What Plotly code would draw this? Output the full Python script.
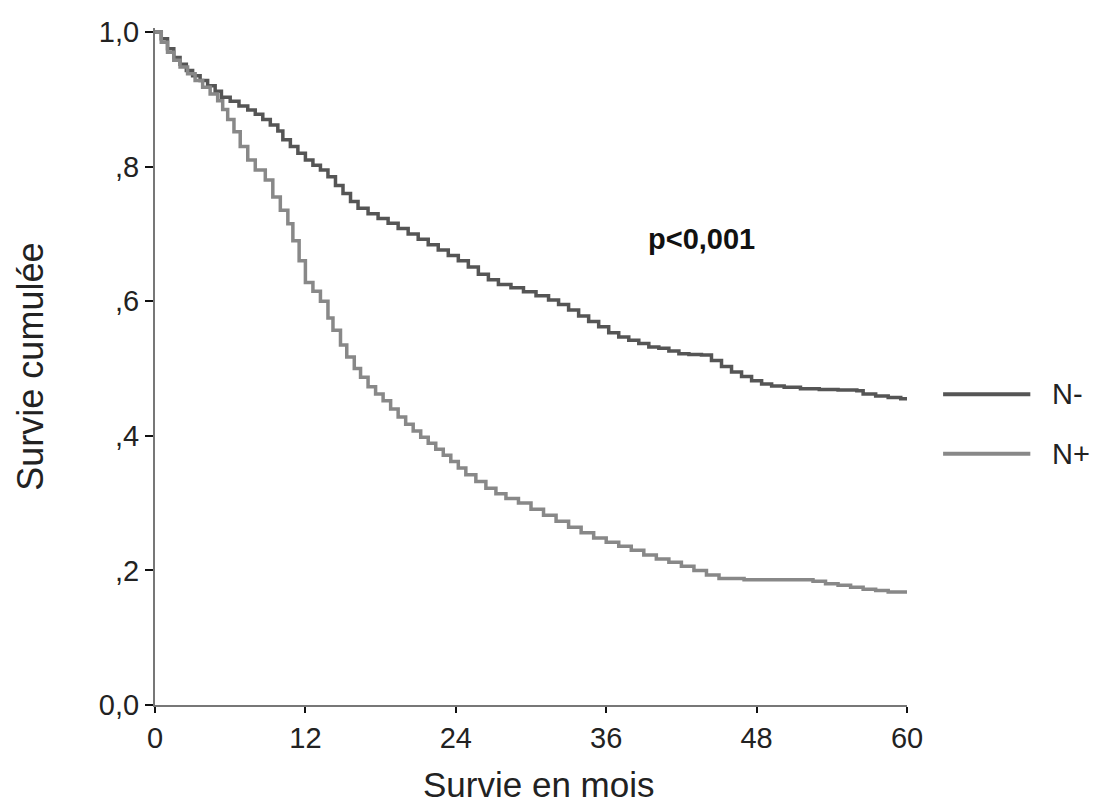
import plotly.graph_objects as go

# N- (dark curve)
t_neg = [0, 0.5, 1.0, 1.5, 2.0, 2.5, 3.0, 3.6, 4.2, 4.8, 5.3, 6.0, 6.7, 7.4, 8.0, 8.6, 9.2, 9.8,
         10.2, 10.8, 11.4, 12.0, 12.6, 13.2, 13.8, 14.4, 15.0, 15.6, 16.2, 17.0, 17.8, 18.6, 19.4,
         20.2, 21.0, 21.8, 22.6, 23.4, 24.2, 25.0, 25.8, 26.6, 27.4, 28.4, 29.4, 30.4, 31.4, 32.2,
         33.0, 33.8, 34.6, 35.4, 36.2, 37.0, 37.8, 38.6, 39.4, 40.2, 41.0, 41.8, 42.6, 43.6, 44.4,
         45.2, 46.0, 46.8, 47.6, 48.4, 49.2, 50.2, 51.5, 53.0, 54.5, 56.0, 56.5, 57.5, 58.5, 59.5, 60]
s_neg = [1.0, 0.99, 0.975, 0.962, 0.952, 0.943, 0.935, 0.928, 0.92, 0.912, 0.903, 0.897, 0.89, 0.884,
         0.878, 0.87, 0.862, 0.853, 0.84, 0.83, 0.82, 0.81, 0.802, 0.795, 0.785, 0.772, 0.76, 0.748,
         0.738, 0.73, 0.723, 0.716, 0.708, 0.7, 0.692, 0.684, 0.676, 0.668, 0.66, 0.651, 0.64, 0.632,
         0.625, 0.62, 0.614, 0.608, 0.602, 0.595, 0.587, 0.578, 0.57, 0.562, 0.553, 0.547, 0.542,
         0.537, 0.532, 0.53, 0.526, 0.522, 0.521, 0.52, 0.512, 0.503, 0.495, 0.488, 0.482, 0.477,
         0.474, 0.472, 0.470, 0.469, 0.468, 0.467, 0.462, 0.459, 0.457, 0.455, 0.455]

# N+ (light curve)
t_pos = [0, 0.5, 1.0, 1.5, 2.0, 2.6, 3.2, 3.8, 4.4, 5.0, 5.4, 5.8, 6.3, 6.8, 7.4, 8.0, 8.8, 9.4,
         10.0, 10.6, 11.0, 11.5, 12.0, 12.6, 13.2, 13.8, 14.2, 14.8, 15.3, 15.9, 16.4, 17.0, 17.6,
         18.2, 18.8, 19.4, 20.0, 20.6, 21.2, 21.8, 22.4, 23.0, 23.6, 24.2, 24.8, 25.6, 26.4, 27.2,
         28.0, 29.0, 30.0, 31.0, 32.0, 33.0, 34.0, 35.0, 36.0, 37.0, 38.0, 39.0, 40.0, 41.0, 42.0,
         43.0, 44.0, 45.0, 47.0, 49.0, 51.7, 52.5, 53.5, 54.5, 55.5, 56.5, 57.5, 58.5, 60]
s_pos = [1.0, 0.985, 0.97, 0.958, 0.948, 0.938, 0.928, 0.918, 0.908, 0.898, 0.885, 0.87, 0.852, 0.83,
         0.81, 0.795, 0.78, 0.755, 0.735, 0.715, 0.69, 0.66, 0.628, 0.615, 0.6, 0.575, 0.557, 0.535,
         0.517, 0.5, 0.487, 0.473, 0.462, 0.452, 0.44, 0.428, 0.417, 0.407, 0.398, 0.389, 0.38,
         0.371, 0.362, 0.352, 0.342, 0.332, 0.322, 0.314, 0.307, 0.3, 0.291, 0.282, 0.273, 0.264,
         0.256, 0.248, 0.242, 0.236, 0.23, 0.223, 0.217, 0.212, 0.206, 0.2, 0.193, 0.188, 0.186,
         0.186, 0.186, 0.184, 0.18, 0.178, 0.175, 0.172, 0.17, 0.168, 0.166]

x_ticks = [0, 12, 24, 36, 48, 60]
x_ticklabels = ["0", "12", "24", "36", "48", "60"]
y_ticks = [0.0, 0.2, 0.4, 0.6, 0.8, 1.0]
y_ticklabels = ["0,0", ",2", ",4", ",6", ",8", "1,0"]

series_names = ["N-", "N+"]
series_colors = ["#555555", "#888888"]

FONT = "Liberation Sans, Arial, sans-serif"

fig = go.Figure()
fig.add_trace(go.Scatter(x=t_neg, y=s_neg, mode="lines", line=dict(shape="hv", color=series_colors[0], width=3.5),
                         name=series_names[0], showlegend=False))
fig.add_trace(go.Scatter(x=t_pos, y=s_pos, mode="lines", line=dict(shape="hv", color=series_colors[1], width=3.5),
                         name=series_names[1], showlegend=False))

fig.update_layout(
    width=1094, height=809,
    margin=dict(l=155, r=187, t=28, b=104),
    paper_bgcolor="white", plot_bgcolor="white",
    font=dict(family=FONT, color="#222222"),
    xaxis=dict(range=[0, 60], tickvals=x_ticks, ticktext=x_ticklabels, showgrid=False, zeroline=False,
               showline=True, linecolor="#777777", linewidth=2, ticks="outside", ticklen=6, tickwidth=2,
               tickcolor="#111111", tickfont=dict(size=29, color="#222222")),
    yaxis=dict(range=[0, 1.006], tickvals=y_ticks, ticktext=y_ticklabels, showgrid=False, zeroline=False,
               showline=True, linecolor="#777777", linewidth=2, ticks="outside", ticklen=8, tickwidth=2,
               tickcolor="#111111", tickfont=dict(size=29, color="#222222")),
)

# axis titles
fig.add_annotation(text="Survie en mois", xref="paper", yref="paper", x=0.51, y=-0.086,
                   xanchor="center", yanchor="top", showarrow=False, font=dict(size=35, color="#222222"))
fig.add_annotation(text="Survie cumulée", xref="paper", yref="paper", x=-0.166, y=0.5,
                   xanchor="center", yanchor="middle", textangle=-90, showarrow=False,
                   font=dict(size=36, color="#222222"))

# p value
fig.add_annotation(text="<b>p<0,001</b>", xref="x", yref="y", x=43.6, y=0.692, showarrow=False,
                   font=dict(size=29, color="#111111"))

# legend (manual)
leg_y = [0.459, 0.371]
for name, col, yy in zip(series_names, series_colors, leg_y):
    fig.add_shape(type="line", xref="paper", yref="paper", x0=1.048, x1=1.164, y0=yy, y1=yy,
                  line=dict(color=col, width=4))
    fig.add_annotation(text=name, xref="paper", yref="paper", x=1.19, y=yy, xanchor="left",
                       yanchor="middle", showarrow=False, font=dict(size=29, color="#222222"))

fig.write_html("out.html")
